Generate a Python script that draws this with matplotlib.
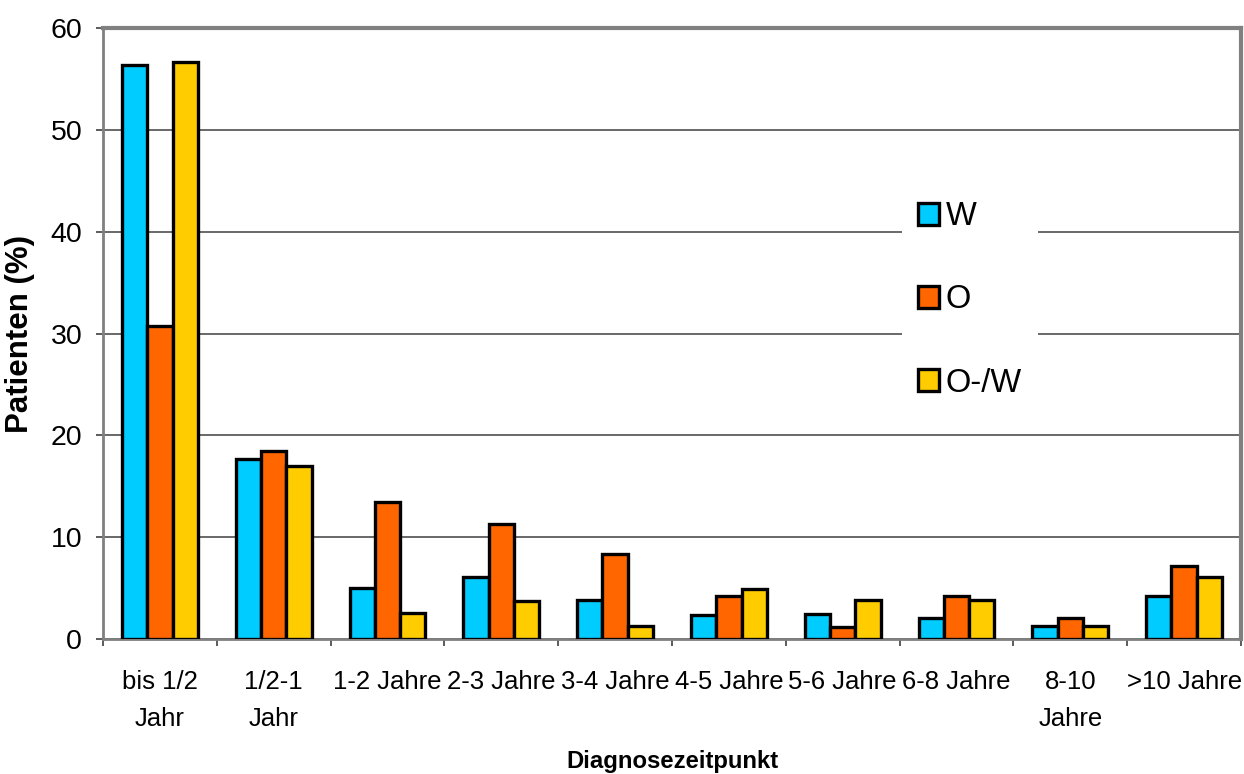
import numpy as np
import matplotlib
matplotlib.use("Agg")
import matplotlib.pyplot as plt

plt.rcParams['font.family'] = ['Liberation Sans', 'DejaVu Sans']

# Diagnosezeitpunkt-Kategorien und Anteile je Gruppe (%)
categories = ["bis 1/2\nJahr", "1/2-1\nJahr", "1-2 Jahre", "2-3 Jahre", "3-4 Jahre",
              "4-5 Jahre", "5-6 Jahre", "6-8 Jahre", "8-10\nJahre", ">10 Jahre"]
w_vals = [56.4, 17.7, 5.0, 6.1, 3.8, 2.4, 2.5, 2.1, 1.3, 4.2]
o_vals = [30.7, 18.5, 13.5, 11.3, 8.3, 4.2, 1.2, 4.2, 2.1, 7.2]
ow_vals = [56.7, 17.0, 2.6, 3.7, 1.3, 4.9, 3.8, 3.8, 1.3, 6.1]

series = [("W", w_vals, "#00CCFF"), ("O", o_vals, "#FF6600"), ("O-/W", ow_vals, "#FFCC00")]

fig = plt.figure(figsize=(12.44, 7.74), dpi=100)
ax = fig.add_axes([0.0828, 0.1744, 0.9148, 0.7894])

x = np.arange(len(categories))
bw = 0.222
for i, (name, vals, col) in enumerate(series):
    ax.bar(x + (i - 1) * bw, vals, width=bw, color=col, edgecolor='black',
           linewidth=2.4, label=name, zorder=3)

ax.set_xlim(-0.5, len(categories) - 0.5)
ax.set_ylim(0, 60)
ax.set_yticks(range(0, 61, 10))
ax.yaxis.grid(True, color='#404040', linewidth=1.1, zorder=0)
ax.set_axisbelow(True)

# Ticks an den Kategoriegrenzen, Beschriftung in der Mitte
ax.set_xticks(np.arange(-0.5, len(categories), 1.0))
ax.set_xticklabels([])
ax.set_xticks(x, minor=True)
ax.set_xticklabels(categories, minor=True, fontsize=18.5, linespacing=1.7)
ax.tick_params(axis='x', which='minor', length=0, pad=22)
ax.tick_params(axis='x', which='major', length=5, width=1.2, color='#404040', direction='out')
ax.tick_params(axis='y', length=5, width=1.2, color='#404040', labelsize=20.5, pad=10)

for side in ['top', 'right']:
    ax.spines[side].set_color('#808080')
    ax.spines[side].set_linewidth(3)
for side in ['left', 'bottom']:
    ax.spines[side].set_color('#808080')
    ax.spines[side].set_linewidth(2)

ax.set_ylabel("Patienten (%)", fontsize=22.5, fontweight='bold', labelpad=11)
ax.set_xlabel("Diagnosezeitpunkt", fontsize=17.2, fontweight='bold', labelpad=14)

leg = ax.legend(loc='center', bbox_to_anchor=(0.762, 0.555), fontsize=23.5,
                frameon=True, fancybox=False, edgecolor='none', facecolor='white', framealpha=1,
                handlelength=0.62, handleheight=0.68, handletextpad=0.22,
                labelspacing=1.6, borderpad=0.5)
for h in leg.legend_handles:
    h.set_linewidth(2.4)

fig.savefig("out.png", dpi=100)
